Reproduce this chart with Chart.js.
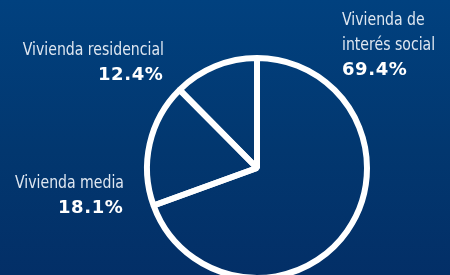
<!DOCTYPE html>
<html>
<head>
<meta charset="utf-8">
<script src="https://cdn.jsdelivr.net/npm/chart.js@4/dist/chart.umd.min.js"></script>
<style>
html,body{margin:0;padding:0;width:450px;height:275px;overflow:hidden;}
body{background:linear-gradient(to bottom,#01417f 0%,#02376f 55%,#032f67 100%);}
canvas{display:block;}
</style>
</head>
<body>
<canvas id="chart" width="450" height="300"></canvas>
<script>
const categories = ["Vivienda de\ninterés social", "Vivienda media", "Vivienda residencial"];
const shares = [69.4, 18.1, 12.4];
const shareLabels = ["69.4%", "18.1%", "12.4%"];

// where each label block sits: [x, baseline of first line, align]
const labelAnchors = [
  [342, 25, "left"],
  [124, 188, "right"],
  [164, 55, "right"]
];

const labelFont = '18px "DejaVu Sans Condensed", "Liberation Sans", sans-serif';
const labelSqueeze = 0.87;
const pctFont = 'bold 18px "DejaVu Sans", sans-serif';

const labelPlugin = {
  id: "sliceLabels",
  afterDraw(chart){
    const c = chart.ctx;
    c.save();
    c.textBaseline = "alphabetic";
    categories.forEach((name, i) => {
      const [x, y, align] = labelAnchors[i];
      c.textAlign = align;
      const lines = name.split("\n");
      c.save();
      c.translate(x, y);
      c.scale(labelSqueeze, 1);
      c.font = labelFont;
      c.fillStyle = "#dfe7f1";
      lines.forEach((ln, k) => c.fillText(ln, 0, k * 25));
      c.restore();
      c.font = pctFont;
      c.fillStyle = "#ffffff";
      if (c.letterSpacing !== undefined) c.letterSpacing = "0.6px";
      const px = align === "right" ? x - 0.6 : x;
      c.fillText(shareLabels[i], px, y + lines.length * 25 - 0.5);
      if (c.letterSpacing !== undefined) c.letterSpacing = "0px";
    });
    c.restore();
  }
};

const ctx =
document
.getElementById("chart");

const chart =
new Chart(ctx, {
  type: "pie",
  data: {
    labels: categories,
    datasets: [{
      data: shares,
      backgroundColor: "rgba(0,0,0,0)",
      borderColor: "#ffffff",
      borderWidth: 6
    }]
  },
  options: {
    responsive: false,
    animation: false,
    events: [],
    devicePixelRatio: 1,
    layout: {
      padding: {left: 144, right: 80, top: 55, bottom: 19}
    },
    plugins: {
      legend: {display: false},
      tooltip: {enabled: false}
    }
  },
  plugins: [labelPlugin]
});
</script>
</body>
</html>
